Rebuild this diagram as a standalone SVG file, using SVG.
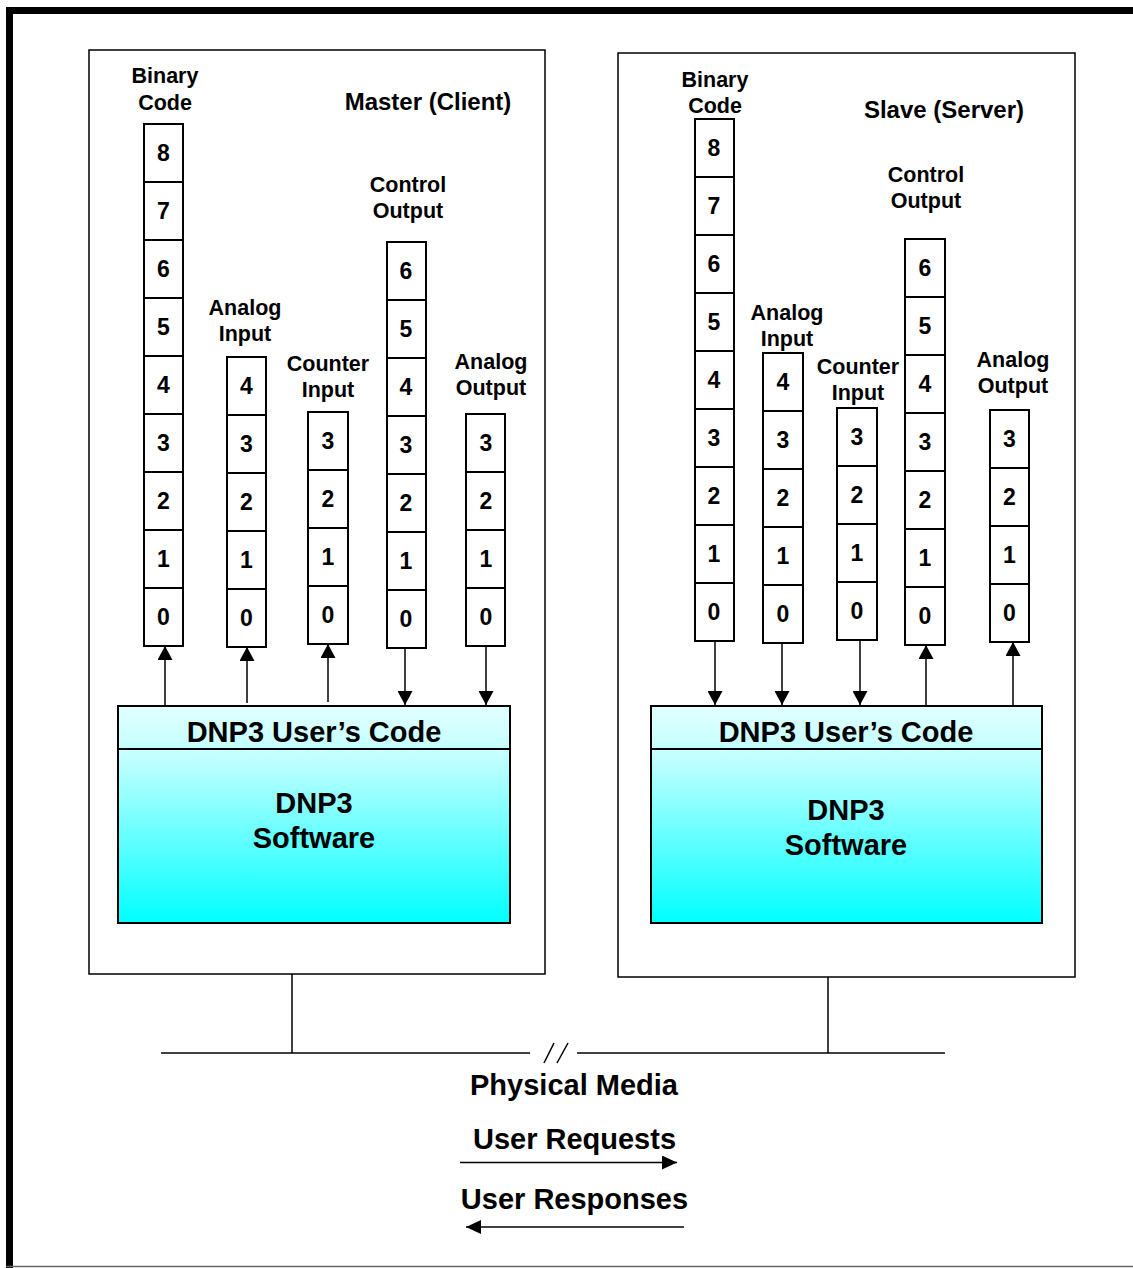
<svg xmlns="http://www.w3.org/2000/svg" width="1133" height="1268" viewBox="0 0 1133 1268">
<style>
text{font-family:"Liberation Sans",Arial,sans-serif;font-weight:bold;fill:#000;text-anchor:middle}
.lbl{font-size:21.5px}
.dig{font-size:23px}
.ttl{font-size:24px}
.big{font-size:29px}
.cell{fill:#fff;stroke:#000;stroke-width:2}
.box{fill:#fff;stroke:#000;stroke-width:1.5}
.dnp{stroke:#000;stroke-width:2}
.ln{stroke:#000;stroke-width:1.5;fill:none}
</style>
<defs>
<linearGradient id="gTop" x1="0" y1="0" x2="0" y2="1"><stop offset="0" stop-color="#e2ffff"/><stop offset="1" stop-color="#c4ffff"/></linearGradient>
<linearGradient id="gBot" x1="0" y1="0" x2="0" y2="1"><stop offset="0" stop-color="#ccffff"/><stop offset="1" stop-color="#00ffff"/></linearGradient>
<marker id="ah" viewBox="0 0 14 15" refX="14" refY="7.5" markerWidth="14" markerHeight="15" markerUnits="userSpaceOnUse" orient="auto"><path d="M0,0 L14,7.5 L0,15 Z" fill="#000"/></marker>
<marker id="ahL" viewBox="0 0 15 14" refX="15" refY="7" markerWidth="15" markerHeight="14" markerUnits="userSpaceOnUse" orient="auto"><path d="M0,0 L15,7 L0,14 Z" fill="#000"/></marker>
</defs>
<rect width="1133" height="1268" fill="#fff"/>
<g id="frame">
<line x1="9.5" y1="7" x2="9.5" y2="1268" stroke="#000" stroke-width="7"/>
<line x1="6" y1="10.5" x2="1133" y2="10.5" stroke="#000" stroke-width="7"/>
<line x1="6" y1="1266.5" x2="1133" y2="1266.5" stroke="#666" stroke-width="1.5"/>
</g>
<g id="master">
<rect class="box" x="89" y="50" width="456" height="924"/>
<text class="ttl" x="428" y="110">Master (Client)</text>
</g>
<g id="slave">
<rect class="box" x="618" y="53" width="457" height="924"/>
<text class="ttl" x="944" y="118">Slave (Server)</text>
</g>
<g id="m-binary">
<text class="lbl" x="165" y="83">Binary</text><text class="lbl" x="165" y="110">Code</text>
<rect class="cell" x="144" y="124" width="39" height="58"/><rect class="cell" x="144" y="182" width="39" height="58"/><rect class="cell" x="144" y="240" width="39" height="58"/><rect class="cell" x="144" y="298" width="39" height="58"/><rect class="cell" x="144" y="356" width="39" height="58"/><rect class="cell" x="144" y="414" width="39" height="58"/><rect class="cell" x="144" y="472" width="39" height="58"/><rect class="cell" x="144" y="530" width="39" height="58"/><rect class="cell" x="144" y="588" width="39" height="58"/>
<text class="dig" x="163.5" y="161">8</text><text class="dig" x="163.5" y="219">7</text><text class="dig" x="163.5" y="277">6</text><text class="dig" x="163.5" y="335">5</text><text class="dig" x="163.5" y="393">4</text><text class="dig" x="163.5" y="451">3</text><text class="dig" x="163.5" y="509">2</text><text class="dig" x="163.5" y="567">1</text><text class="dig" x="163.5" y="625">0</text>
</g>
<g id="m-analog-input">
<text class="lbl" x="245" y="315">Analog</text><text class="lbl" x="245" y="341">Input</text>
<rect class="cell" x="227" y="357" width="39" height="58"/><rect class="cell" x="227" y="415" width="39" height="58"/><rect class="cell" x="227" y="473" width="39" height="58"/><rect class="cell" x="227" y="531" width="39" height="58"/><rect class="cell" x="227" y="589" width="39" height="58"/>
<text class="dig" x="246.5" y="394">4</text><text class="dig" x="246.5" y="452">3</text><text class="dig" x="246.5" y="510">2</text><text class="dig" x="246.5" y="568">1</text><text class="dig" x="246.5" y="626">0</text>
</g>
<g id="m-counter-input">
<text class="lbl" x="328" y="371">Counter</text><text class="lbl" x="328" y="397">Input</text>
<rect class="cell" x="308" y="412" width="40" height="58"/><rect class="cell" x="308" y="470" width="40" height="58"/><rect class="cell" x="308" y="528" width="40" height="58"/><rect class="cell" x="308" y="586" width="40" height="58"/>
<text class="dig" x="328" y="449">3</text><text class="dig" x="328" y="507">2</text><text class="dig" x="328" y="565">1</text><text class="dig" x="328" y="623">0</text>
</g>
<g id="m-control-output">
<text class="lbl" x="408" y="192">Control</text><text class="lbl" x="408" y="218">Output</text>
<rect class="cell" x="387" y="242" width="39" height="58"/><rect class="cell" x="387" y="300" width="39" height="58"/><rect class="cell" x="387" y="358" width="39" height="58"/><rect class="cell" x="387" y="416" width="39" height="58"/><rect class="cell" x="387" y="474" width="39" height="58"/><rect class="cell" x="387" y="532" width="39" height="58"/><rect class="cell" x="387" y="590" width="39" height="58"/>
<text class="dig" x="406" y="279">6</text><text class="dig" x="406" y="337">5</text><text class="dig" x="406" y="395">4</text><text class="dig" x="406" y="453">3</text><text class="dig" x="406" y="511">2</text><text class="dig" x="406" y="569">1</text><text class="dig" x="406" y="627">0</text>
</g>
<g id="m-analog-output">
<text class="lbl" x="491" y="369">Analog</text><text class="lbl" x="491" y="395">Output</text>
<rect class="cell" x="466" y="414" width="39" height="58"/><rect class="cell" x="466" y="472" width="39" height="58"/><rect class="cell" x="466" y="530" width="39" height="58"/><rect class="cell" x="466" y="588" width="39" height="58"/>
<text class="dig" x="486" y="451">3</text><text class="dig" x="486" y="509">2</text><text class="dig" x="486" y="567">1</text><text class="dig" x="486" y="625">0</text>
</g>
<g id="m-dnp3">
<rect class="dnp" x="118" y="706" width="392" height="43" fill="url(#gTop)"/>
<rect class="dnp" x="118" y="749" width="392" height="174" fill="url(#gBot)"/>
<text class="big" x="314" y="742">DNP3 User’s Code</text>
<text class="big" x="314" y="813">DNP3</text>
<text class="big" x="314" y="848">Software</text>
</g>
<g id="s-binary">
<text class="lbl" x="715" y="87">Binary</text><text class="lbl" x="715" y="113">Code</text>
<rect class="cell" x="695" y="119" width="39" height="58"/><rect class="cell" x="695" y="177" width="39" height="58"/><rect class="cell" x="695" y="235" width="39" height="58"/><rect class="cell" x="695" y="293" width="39" height="58"/><rect class="cell" x="695" y="351" width="39" height="58"/><rect class="cell" x="695" y="409" width="39" height="58"/><rect class="cell" x="695" y="467" width="39" height="58"/><rect class="cell" x="695" y="525" width="39" height="58"/><rect class="cell" x="695" y="583" width="39" height="58"/>
<text class="dig" x="714" y="156">8</text><text class="dig" x="714" y="214">7</text><text class="dig" x="714" y="272">6</text><text class="dig" x="714" y="330">5</text><text class="dig" x="714" y="388">4</text><text class="dig" x="714" y="446">3</text><text class="dig" x="714" y="504">2</text><text class="dig" x="714" y="562">1</text><text class="dig" x="714" y="620">0</text>
</g>
<g id="s-analog-input">
<text class="lbl" x="787" y="320">Analog</text><text class="lbl" x="787" y="346">Input</text>
<rect class="cell" x="763" y="353" width="40" height="58"/><rect class="cell" x="763" y="411" width="40" height="58"/><rect class="cell" x="763" y="469" width="40" height="58"/><rect class="cell" x="763" y="527" width="40" height="58"/><rect class="cell" x="763" y="585" width="40" height="58"/>
<text class="dig" x="783" y="390">4</text><text class="dig" x="783" y="448">3</text><text class="dig" x="783" y="506">2</text><text class="dig" x="783" y="564">1</text><text class="dig" x="783" y="622">0</text>
</g>
<g id="s-counter-input">
<text class="lbl" x="858" y="374">Counter</text><text class="lbl" x="858" y="400">Input</text>
<rect class="cell" x="837" y="408" width="40" height="58"/><rect class="cell" x="837" y="466" width="40" height="58"/><rect class="cell" x="837" y="524" width="40" height="58"/><rect class="cell" x="837" y="582" width="40" height="58"/>
<text class="dig" x="857" y="445">3</text><text class="dig" x="857" y="503">2</text><text class="dig" x="857" y="561">1</text><text class="dig" x="857" y="619">0</text>
</g>
<g id="s-control-output">
<text class="lbl" x="926" y="182">Control</text><text class="lbl" x="926" y="208">Output</text>
<rect class="cell" x="905" y="239" width="40" height="58"/><rect class="cell" x="905" y="297" width="40" height="58"/><rect class="cell" x="905" y="355" width="40" height="58"/><rect class="cell" x="905" y="413" width="40" height="58"/><rect class="cell" x="905" y="471" width="40" height="58"/><rect class="cell" x="905" y="529" width="40" height="58"/><rect class="cell" x="905" y="587" width="40" height="58"/>
<text class="dig" x="925" y="276">6</text><text class="dig" x="925" y="334">5</text><text class="dig" x="925" y="392">4</text><text class="dig" x="925" y="450">3</text><text class="dig" x="925" y="508">2</text><text class="dig" x="925" y="566">1</text><text class="dig" x="925" y="624">0</text>
</g>
<g id="s-analog-output">
<text class="lbl" x="1013" y="367">Analog</text><text class="lbl" x="1013" y="393">Output</text>
<rect class="cell" x="990" y="410" width="39" height="58"/><rect class="cell" x="990" y="468" width="39" height="58"/><rect class="cell" x="990" y="526" width="39" height="58"/><rect class="cell" x="990" y="584" width="39" height="58"/>
<text class="dig" x="1009.5" y="447">3</text><text class="dig" x="1009.5" y="505">2</text><text class="dig" x="1009.5" y="563">1</text><text class="dig" x="1009.5" y="621">0</text>
</g>
<g id="s-dnp3">
<rect class="dnp" x="651" y="706" width="391" height="43" fill="url(#gTop)"/>
<rect class="dnp" x="651" y="749" width="391" height="174" fill="url(#gBot)"/>
<text class="big" x="846" y="742">DNP3 User’s Code</text>
<text class="big" x="846" y="820">DNP3</text>
<text class="big" x="846" y="855">Software</text>
</g>
<g id="connectors">
<line class="ln" x1="165" y1="706" x2="165" y2="646" marker-end="url(#ah)"/>
<line class="ln" x1="247" y1="703" x2="247" y2="647" marker-end="url(#ah)"/>
<line class="ln" x1="328" y1="702" x2="328" y2="644" marker-end="url(#ah)"/>
<line class="ln" x1="405" y1="648" x2="405" y2="705" marker-end="url(#ah)"/>
<line class="ln" x1="486" y1="646" x2="486" y2="705" marker-end="url(#ah)"/>
<line class="ln" x1="715" y1="641" x2="715" y2="705" marker-end="url(#ah)"/>
<line class="ln" x1="782" y1="643" x2="782" y2="705" marker-end="url(#ah)"/>
<line class="ln" x1="860" y1="640" x2="860" y2="705" marker-end="url(#ah)"/>
<line class="ln" x1="926" y1="705" x2="926" y2="645" marker-end="url(#ah)"/>
<line class="ln" x1="1013" y1="705" x2="1013" y2="642" marker-end="url(#ah)"/>
<line class="ln" x1="292" y1="974" x2="292" y2="1053"/>
<line class="ln" x1="828" y1="977" x2="828" y2="1053"/>
<line class="ln" x1="161" y1="1053" x2="530" y2="1053"/>
<line class="ln" x1="577" y1="1053" x2="945" y2="1053"/>
<line class="ln" x1="544" y1="1063" x2="554" y2="1043"/>
<line class="ln" x1="557" y1="1063" x2="568" y2="1043"/>
</g>
<g id="legend">
<text class="big" x="574" y="1095">Physical Media</text>
<text class="big" x="574.5" y="1149">User Requests</text>
<line class="ln" x1="460" y1="1162.5" x2="677" y2="1162.5" marker-end="url(#ahL)"/>
<text class="big" x="574.5" y="1209">User Responses</text>
<line class="ln" x1="684" y1="1227" x2="466" y2="1227" marker-end="url(#ahL)"/>
</g>
</svg>
